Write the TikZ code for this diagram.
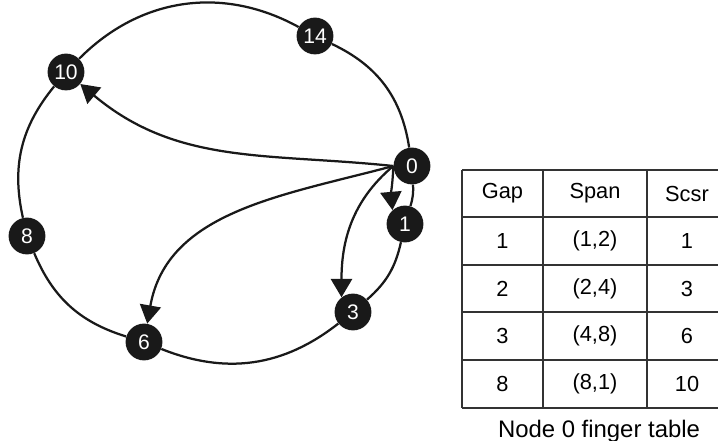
\documentclass[tikz,border=0pt]{standalone}
\usepackage{fontspec}
\setmainfont{Liberation Sans}
\usetikzlibrary{arrows.meta}

\begin{document}
\begin{tikzpicture}[x=0.025cm,y=0.025cm,>={Triangle[length=13pt,width=15pt]},
  peer/.style={circle,fill=black!90,text=white,minimum size=0.92cm,inner sep=0pt,font=\fontsize{15}{15}\selectfont},
  ring/.style={line width=1.6pt,black!90},
  finger/.style={->,line width=1.6pt,black!90},
  rule/.style={line width=1pt,black!80},
  cell/.style={font=\fontsize{15.5}{16}\selectfont}]
\useasboundingbox (0,0) rectangle (718,441);
\clip (0,0) rectangle (718,441);
% nodes on the ring
\node[peer] (n0) at (412,275) {0};
\node[peer] (n1) at (405,217) {1};
\node[peer] (n3) at (353,129) {3};
\node[peer] (n6) at (144,99) {6};
\node[peer] (n8) at (27,205) {8};
\node[peer] (n10) at (66,369) {10};
\node[peer] (n14) at (315,405) {14};
% ring
\draw[ring] (n0) to[bend left=10] (n1);
\draw[ring] (n1) to[bend left=18] (n3);
\draw[ring] (n3) to[bend left=30] (n6);
\draw[ring] (n6) to[bend left=25] (n8);
\draw[ring] (n8) to[bend left=26] (n10);
\draw[ring] (n10) to[bend left=37] (n14);
\draw[ring] (n14) to[bend left=28] (n0);
% fingers of node 0
\draw[finger] (n0.west) to[out=-92,in=95] (n1.132);
\draw[finger] (n0.west) to[out=-140,in=90] (n3.128);
\draw[finger] (n0.west) to[out=-165,in=80] (n6);
\draw[finger] (n0.west) to[out=174,in=-40] (n10);
% finger table
\foreach \y in {271,224,176,129,81,33}
  \draw[rule] (462,\y) -- (727,\y);
\foreach \x in {462,543,647,727}
  \draw[rule] (\x,33) -- (\x,271);
\foreach \g/\s/\c [count=\i] in {Gap/Span/Scsr,1/{(1,2)}/1,2/{(2,4)}/3,3/{(4,8)}/6,8/{(8,1)}/10}{
  \node[cell] (gap\i) at (502.5,295-47.5*\i) {\g};
  \node[cell] (span\i) at (595,295-47.5*\i) {\s};
  \node[cell] (scsr\i) at (687,295-47.5*\i) {\c};
}
\node[font=\fontsize{17}{17}\selectfont,anchor=base] (caption) at (599,3) {Node 0 finger table};
\end{tikzpicture}
\end{document}
